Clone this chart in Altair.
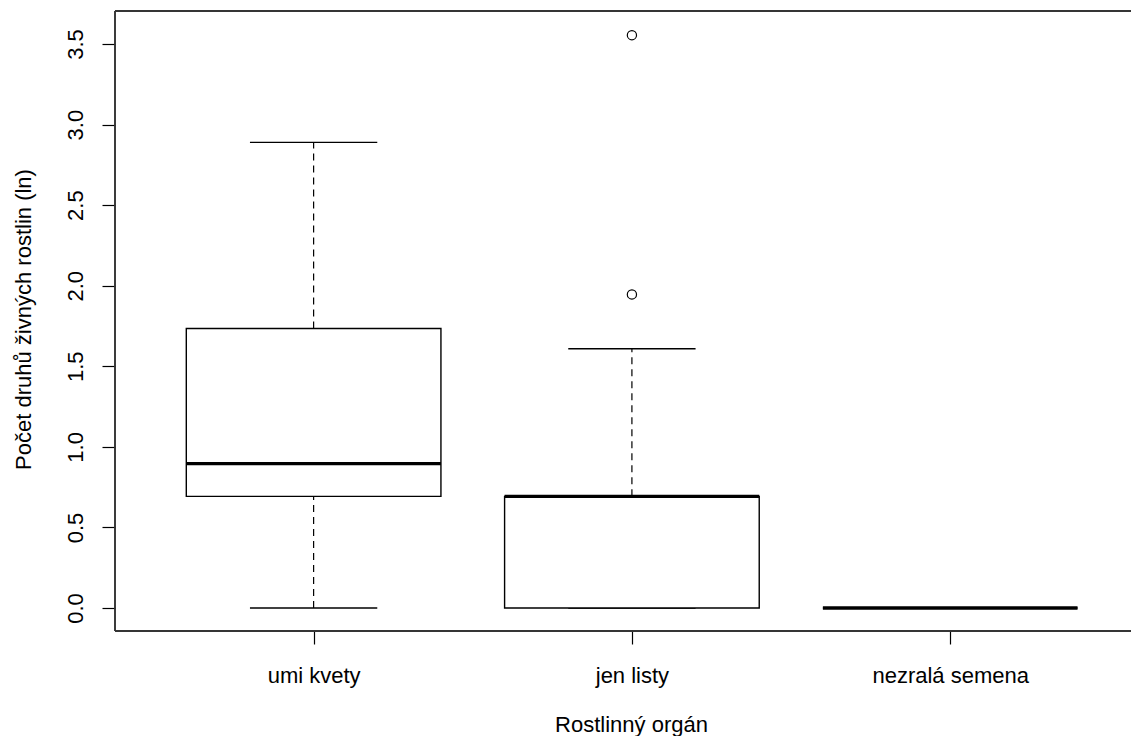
import json
import altair as alt
import pandas as pd

# ---- data ----
categories = ["umi kvety", "jen listy", "nezralá semena"]
lower_whisker = [0.0, 0.0, 0.0]
q1 = [0.693, 0.0, 0.0]
median = [0.896, 0.693, 0.0]
q3 = [1.735, 0.693, 0.0]
upper_whisker = [2.890, 1.609, 0.0]
outlier_group = ["jen listy", "jen listy"]
outlier_value = [1.946, 3.555]
y_ticks = [0.0, 0.5, 1.0, 1.5, 2.0, 2.5, 3.0, 3.5]

box_df = pd.DataFrame({
    "cat": categories,
    "idx": list(range(1, len(categories) + 1)),
    "lo": lower_whisker, "q1": q1, "med": median, "q3": q3, "hi": upper_whisker,
})
out_df = pd.DataFrame({
    "cat": outlier_group,
    "idx": [categories.index(c) + 1 for c in outlier_group],
    "val": outlier_value,
})

W, H = 1016, 620
FONT = "Liberation Sans"
FS = 22

xscale = alt.Scale(domain=[0.376, 3.568], nice=False, zero=False)
yscale = alt.Scale(domain=[-0.1427, 3.705], nice=False, zero=False)

label_expr = f"{json.dumps(categories, ensure_ascii=False)}[datum.value - 1]"

x_axis = alt.Axis(
    values=[1, 2, 3], labelExpr=label_expr, grid=False, domain=False,
    tickColor="black", tickSize=13, tickWidth=1.2,
    labelFont=FONT, labelFontSize=FS, labelColor="black", labelPadding=21,
    labelBaseline="top", labelAlign="center",
    title="Rostlinný orgán", titleFont=FONT, titleFontSize=FS, titleFontWeight="normal",
    titleColor="black", titleX=516, titleY=100, titleBaseline="alphabetic",
    titleAlign="center", titleAnchor="start",
)
y_axis = alt.Axis(
    values=y_ticks, format=".1f", grid=False, domain=False,
    tickColor="black", tickSize=13, tickWidth=1.2,
    labelFont=FONT, labelFontSize=FS, labelColor="black", labelPadding=20,
    labelAngle=270, labelAlign="center", labelBaseline="alphabetic",
    title="Počet druhů živných rostlin (ln)", titleFont=FONT, titleFontSize=FS,
    titleFontWeight="normal", titleColor="black", titleAngle=270,
    titleX=-85, titleY=308, titleBaseline="alphabetic", titleAlign="center",
    titleAnchor="start",
)

base = alt.Chart(box_df).transform_calculate(
    bx0="datum.idx - 0.4", bx1="datum.idx + 0.4",
    cx0="datum.idx - 0.2", cx1="datum.idx + 0.2",
)

STROKE = "black"
dash = [7, 5]

whisk_lo = base.mark_rule(color=STROKE, strokeWidth=1.2, strokeDash=dash).encode(
    x=alt.X("idx:Q", scale=xscale, axis=x_axis),
    y=alt.Y("lo:Q", scale=yscale, axis=y_axis),
    y2="q1:Q",
)
whisk_hi = base.mark_rule(color=STROKE, strokeWidth=1.2, strokeDash=dash).encode(
    x="idx:Q", y="q3:Q", y2="hi:Q",
)
cap_lo = base.mark_rule(color=STROKE, strokeWidth=1.3).encode(
    x="cx0:Q", x2="cx1:Q", y="lo:Q",
)
cap_hi = base.mark_rule(color=STROKE, strokeWidth=1.3).encode(
    x="cx0:Q", x2="cx1:Q", y="hi:Q",
)
box = base.mark_rect(fill="white", stroke=STROKE, strokeWidth=1.4).encode(
    x="bx0:Q", x2="bx1:Q", y="q1:Q", y2="q3:Q",
)
med = base.mark_rule(color="black", strokeWidth=3.4).encode(
    x="bx0:Q", x2="bx1:Q", y="med:Q",
)
outl = alt.Chart(out_df).mark_point(
    shape="circle", filled=False, color="black", size=85, strokeWidth=1.2, opacity=1
).encode(x="idx:Q", y="val:Q")

frame_top = alt.Chart(box_df).mark_rule(color="#333", strokeWidth=1.3).encode(
    x=alt.value(0), x2=alt.value(W), y=alt.value(0))
frame_bot = alt.Chart(box_df).mark_rule(color="#333", strokeWidth=1.3).encode(
    x=alt.value(0), x2=alt.value(W), y=alt.value(H))
frame_left = alt.Chart(box_df).mark_rule(color="#333", strokeWidth=1.3).encode(
    x=alt.value(0), y=alt.value(0), y2=alt.value(H))

chart = alt.layer(
    whisk_lo, whisk_hi, cap_lo, cap_hi, box, med, outl,
    frame_top, frame_bot, frame_left,
).properties(
    width=W, height=H,
    autosize=alt.AutoSizeParams(type="none"),
    padding={"left": 107, "top": 3, "right": 0, "bottom": 105},
    background="white",
).configure_view(stroke=None)

chart.save("out.html", embed_options={"renderer": "svg", "actions": False})
